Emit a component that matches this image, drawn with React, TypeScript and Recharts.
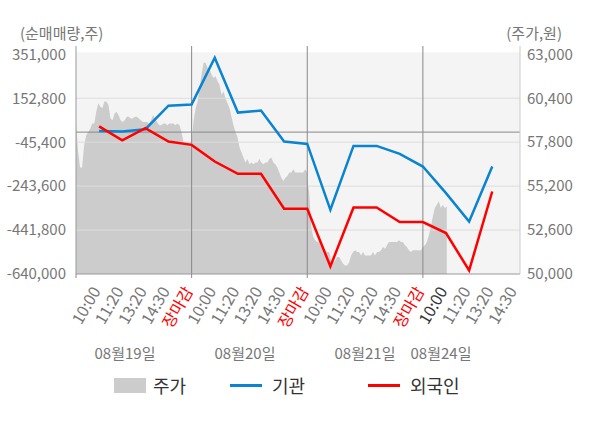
import {
  Area,
  ComposedChart,
  Line,
  ReferenceArea,
  ReferenceLine,
  XAxis,
  YAxis,
} from "recharts";

const timeLabels = [
  "10:00", "11:20", "13:20", "14:30", "장마감",
  "10:00", "11:20", "13:20", "14:30", "장마감",
  "10:00", "11:20", "13:20", "14:30", "장마감",
  "10:00", "11:20", "13:20", "14:30",
];

const dayLabels = ["08월19일", "08월20일", "08월21일", "08월24일"];

// 순매매량 (주)
const institution = [
  5500, 3300, 13200, 119000, 124900, 335700, 88000, 97000, -42700, -53100,
  -350400, -62100, -62100, -98100, -155300, -275100, -403100, -155300,
];
const foreign = [
  25800, -37300, 17700, -42700, -57600, -132800, -188200, -188200, -345800, -345800,
  -605800, -340000, -340000, -405800, -405800, -455300, -623800, -267900,
];

// 주가 (원), 장중
const priceDay1 = [
  59000, 57300, 56300, 56300, 57600, 58200, 58400, 58600, 58900, 58900,
  59600, 60100, 59900, 59800, 60200, 60200, 60000, 59200, 59100, 59500,
  59600, 59400, 59100, 59000, 59100, 59300, 59300, 59200, 59200, 59300,
  59300, 59200, 59100, 59000, 59000, 59000, 58900, 59100, 59400, 59200,
  59000, 58800, 58800, 58900, 58900, 58800, 58900, 58900, 58900, 58800,
  58900, 58800, 58400, 57800, 57800, 57800, 57800, 57800,
];
const priceDay2 = [
  57900, 59100, 59800, 60200, 61000, 61800, 62500, 62500, 62200, 62100,
  61800, 61600, 61700, 61400, 61200, 60600, 60800, 60400, 60100, 59800,
  59300, 58800, 58400, 58100, 57500, 57200, 56900, 56600, 56800, 56500,
  56600, 56500, 56600, 56600, 56800, 56600, 56500, 56600, 56600, 56800,
  56900, 56600, 56500, 56300, 56000, 55700, 55500, 55700, 55800, 56000,
  56000, 56200, 56000, 56000, 56000, 56000, 56000, 56200, 56000,
];
const priceDay3 = [
  55600, 54800, 52800, 52200, 52000, 51900, 51900, 51600, 51600, 51400,
  51300, 51300, 50800, 50700, 50800, 51000, 51000, 50800, 50600, 50500,
  50500, 50700, 51100, 51300, 51400, 51300, 51300, 51100, 51300, 51100,
  51100, 51100, 51100, 51300, 51100, 51300, 51300, 51400, 51600, 51500,
  51700, 51900, 51900, 51900, 51900, 51900, 52000, 51900, 51900, 51700,
  51600, 51400, 51300, 51400, 51400, 51400, 51400, 51400, 51600,
];
const priceDay4 = [
  51600, 51700, 51900, 52300, 52800, 53400, 53900, 54100, 54300, 53900,
  54100, 53900, 54000,
];

const leftTicks = [351000, 152800, -45400, -243600, -441800, -640000];
const rightTicks = [63000, 60400, 57800, 55200, 52600, 50000];

const FONT = "'Noto Sans CJK KR', 'Noto Sans', sans-serif";
const numberFormatter = new Intl.NumberFormat("en-US");

const priceDays = [priceDay1, priceDay2, priceDay3, priceDay4];
const slotsPerDay = 5;
const fullDaySamples = 59;

const priceData = priceDays.flatMap((prices, day) => {
  const steps = day < 3 ? prices.length - 1 : fullDaySamples - 1;
  return prices.map((price, i) => ({
    x: day * slotsPerDay + (i * slotsPerDay) / steps,
    price,
  }));
});

const flowData = institution.map((value, i) => ({
  x: i + 1,
  institution: value,
  foreign: foreign[i],
}));

const xTicks = Array.from({ length: timeLabels.length + 1 }, (_, i) => i);
const dayBoundaries = [5, 10, 15];

function TimeTick({ x, y, payload }: { x?: number; y?: number; payload?: { value: number } }) {
  const u = payload?.value ?? 0;
  const px = x ?? 0;
  const py = y ?? 0;
  const label = u >= 1 ? timeLabels[u - 1] : null;
  const isBoundary = u % slotsPerDay === 0 && u < timeLabels.length;
  let color = "#777";
  if (label === "장마감") color = "#ff0000";
  if (u === 16) color = "#333";
  const tx = px + 2;
  const ty = py + 17;

  return (
    <g>
      {isBoundary && <line x1={px} x2={px} y1={py} y2={py + 4} stroke="#888" />}
      {label && (
        <text
          x={tx}
          y={ty}
          transform={`rotate(-60, ${tx}, ${ty})`}
          textAnchor="end"
          fill={color}
          fontSize={16}
          fontFamily={FONT}
        >
          {label}
        </text>
      )}
    </g>
  );
}

const dayLabelCenters = [125, 245, 365, 441];
const legendItems = [
  { name: "주가", color: "#cccccc", kind: "rect", left: 114 },
  { name: "기관", color: "#0a84d0", kind: "line", left: 230 },
  { name: "외국인", color: "#ff0000", kind: "line", left: 368 },
];

export default function App() {
  return (
    <div
      style={{
        position: "absolute",
        left: 0,
        top: 0,
        width: 600,
        height: 428,
        background: "#fff",
        fontFamily: FONT,
      }}
    >
      <div style={{ position: "absolute", left: 20, top: 22, fontSize: 15, color: "#777" }}>
        (순매매량,주)
      </div>
      <div style={{ position: "absolute", right: 38, top: 22, fontSize: 15, color: "#777" }}>
        (주가,원)
      </div>

      <ComposedChart
        width={600}
        height={428}
        data={flowData}
        margin={{ top: 46, right: 0, bottom: 0, left: 0 }}
      >
        <XAxis
          type="number"
          dataKey="x"
          domain={[0, 19.2]}
          ticks={xTicks}
          interval={0}
          allowDataOverflow
          height={154}
          tickLine={false}
          tickSize={0}
          tickMargin={0}
          axisLine={{ stroke: "#999" }}
          tick={<TimeTick />}
        />
        <YAxis
          yAxisId="left"
          orientation="left"
          width={76}
          domain={[-640000, 388400]}
          ticks={leftTicks}
          interval={0}
          allowDataOverflow
          tickLine={false}
          tickMargin={4}
          axisLine={{ stroke: "#999" }}
          tick={{ fill: "#777", fontSize: 15, fontFamily: FONT }}
          tickFormatter={(v: number) => numberFormatter.format(v)}
        />
        <YAxis
          yAxisId="right"
          orientation="right"
          width={80}
          domain={[50000, 63490]}
          ticks={rightTicks}
          interval={0}
          allowDataOverflow
          tickLine={false}
          tickMargin={1}
          axisLine={{ stroke: "#ccc" }}
          tick={{ fill: "#777", fontSize: 15, fontFamily: FONT }}
          tickFormatter={(v: number) => numberFormatter.format(v)}
        />

        <ReferenceArea
          yAxisId="left"
          x1={0}
          x2={19.2}
          y1={-640000}
          y2={360000}
          fill="#f4f4f4"
          fillOpacity={1}
          stroke="none"
        />

        <Area
          yAxisId="right"
          data={priceData}
          dataKey="price"
          type="linear"
          fill="#cccccc"
          fillOpacity={1}
          stroke="none"
          isAnimationActive={false}
          dot={false}
          activeDot={false}
        />

        {leftTicks.slice(1, -1).map((t) => (
          <ReferenceLine key={t} yAxisId="left" y={t} stroke="#dddddd" />
        ))}
        <ReferenceLine yAxisId="left" y={0} stroke="#888" />
        {dayBoundaries.map((b) => (
          <ReferenceLine key={b} yAxisId="left" x={b} stroke="#888" />
        ))}

        <Line
          yAxisId="left"
          dataKey="institution"
          type="linear"
          stroke="#0a84d0"
          strokeWidth={2.5}
          dot={false}
          activeDot={false}
          isAnimationActive={false}
        />
        <Line
          yAxisId="left"
          dataKey="foreign"
          type="linear"
          stroke="#ff0000"
          strokeWidth={2.5}
          dot={false}
          activeDot={false}
          isAnimationActive={false}
        />
      </ComposedChart>

      {dayLabels.map((label, i) => (
        <div
          key={label}
          style={{
            position: "absolute",
            left: dayLabelCenters[i] - 50,
            width: 100,
            top: 342,
            textAlign: "center",
            fontSize: 15,
            color: "#777",
          }}
        >
          {label}
        </div>
      ))}

      {legendItems.map((item) => (
        <div
          key={item.name}
          style={{
            position: "absolute",
            left: item.left,
            top: 373,
            height: 24,
            display: "flex",
            alignItems: "center",
            fontSize: 18,
            color: "#333",
          }}
        >
          <span
            style={{
              display: "inline-block",
              width: 32,
              height: item.kind === "rect" ? 15 : 3,
              background: item.color,
              marginRight: item.kind === "rect" ? 7 : 10,
            }}
          />
          {item.name}
        </div>
      ))}
    </div>
  );
}
